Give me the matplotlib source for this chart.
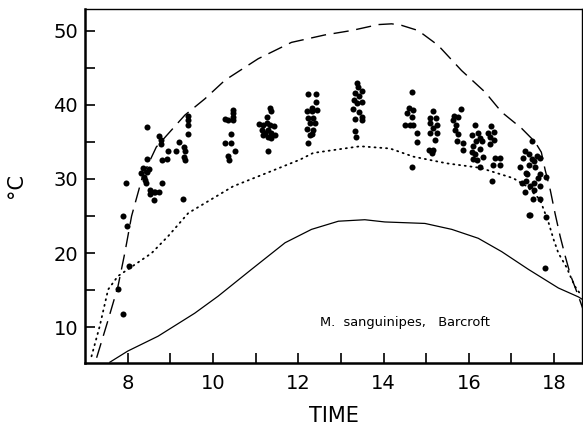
import numpy as np
from matplotlib import pyplot as plt
from matplotlib.ticker import MultipleLocator, FixedLocator

plt.rcParams["font.family"] = "DejaVu Sans"

# observed body temperatures (time of day, deg C)
obs_time = [7.77, 7.88, 7.89, 7.97, 7.99, 8.03, 8.32, 8.35, 8.38, 8.40, 8.42, 8.45, 8.45, 8.46,
            8.50, 8.52, 8.52, 8.61, 8.61, 8.63, 8.74, 8.74, 8.77, 8.77, 8.81, 8.81, 8.93, 8.95,
            9.12, 9.20, 9.30, 9.33, 9.34, 9.33, 9.34, 9.42, 9.42, 9.42, 9.42,
            10.28, 10.35, 10.47, 10.48, 10.47, 10.46, 10.41, 10.28, 10.41, 10.51, 10.35, 10.38,
            11.33, 11.37, 11.26, 11.08, 11.18, 11.26, 11.33, 11.43, 11.29, 11.14, 11.22, 11.35,
            11.45, 11.29, 11.37, 11.18, 11.28,
            12.22, 12.41, 12.41, 12.31, 12.21, 12.33, 12.43, 12.23, 12.35, 12.27, 12.38, 12.21,
            12.35, 12.27, 12.33, 12.23,
            13.37, 13.41, 13.33, 13.49, 13.43, 13.31, 13.49, 13.38, 13.29, 13.43, 13.49, 13.33,
            13.49, 13.33, 13.35,
            14.66, 14.60, 14.68, 14.55, 14.66, 14.50, 14.62, 14.70, 14.79, 14.78, 14.66,
            15.15, 15.09, 15.23, 15.09, 15.25, 15.17, 15.09, 15.25, 15.21, 15.07, 15.17, 15.13,
            15.81, 15.65, 15.75, 15.62, 15.70, 15.68, 15.75, 15.72, 15.86, 15.86,
            16.15, 16.07, 16.22, 16.25, 16.17, 16.30, 16.10, 16.26, 16.07, 16.15, 16.33, 16.10,
            16.20, 16.25,
            16.51, 16.46, 16.59, 16.50, 16.59, 16.50, 16.62, 16.72, 16.56, 16.73, 16.54,
            17.48, 17.32, 17.40, 17.28, 17.48, 17.60, 17.52, 17.67, 17.40, 17.20, 17.55, 17.34,
            17.67, 17.63, 17.81, 17.34, 17.52, 17.67,
            17.36, 17.24, 17.44, 17.32, 17.52, 17.50, 17.67, 17.42, 17.81, 17.44, 17.79]
obs_temp = [15.2, 11.8, 25.0, 29.5, 23.7, 18.2, 30.8, 31.5, 30.2, 29.8, 29.4, 30.9, 32.7, 37.0,
            31.4, 28.5, 27.9, 28.3, 27.2, 28.3, 35.8, 28.3, 35.2, 34.7, 32.6, 29.4, 32.7, 33.8,
            33.8, 35.0, 27.3, 34.3, 33.7, 33.0, 32.5, 38.5, 38.0, 37.2, 36.0,
            38.1, 38.0, 39.3, 38.9, 38.0, 38.4, 36.0, 34.9, 34.9, 33.8, 33.1, 32.6,
            39.5, 39.1, 38.4, 37.4, 37.2, 37.5, 37.3, 37.1, 36.6, 36.6, 36.2, 36.2,
            35.9, 35.7, 35.5, 35.9, 33.8,
            41.5, 41.5, 40.4, 39.6, 39.1, 39.1, 39.3, 38.2, 38.2, 37.5, 37.5, 36.7,
            36.6, 35.9, 36.1, 34.9,
            42.9, 42.4, 41.6, 41.8, 41.2, 40.7, 40.4, 40.2, 39.4, 39.0, 38.4, 38.1,
            38.0, 36.4, 35.7,
            41.7, 39.5, 39.3, 38.9, 38.4, 37.2, 37.2, 37.2, 36.2, 35.0, 31.6,
            39.2, 38.2, 38.2, 37.5, 37.3, 36.9, 36.2, 36.2, 35.3, 33.9, 33.9, 33.5,
            39.4, 38.5, 38.3, 37.9, 37.3, 36.6, 36.1, 35.1, 34.8, 33.9,
            37.3, 35.9, 36.2, 35.5, 35.1, 35.1, 34.4, 34.0, 33.6, 33.3, 33.0, 32.7,
            32.6, 31.6,
            37.1, 36.2, 36.3, 35.6, 35.3, 34.7, 32.8, 32.8, 31.9, 31.9, 29.7,
            35.1, 33.7, 33.3, 32.8, 32.7, 33.1, 32.4, 32.8, 31.9, 31.6, 31.6, 30.8,
            30.7, 30.1, 30.3, 29.7, 29.4, 29.0,
            30.6, 29.4, 29.0, 28.3, 28.5, 27.3, 27.3, 25.2, 24.9, 25.2, 18.0]

# upper (dashed) curve
dash_time = [7.27, 7.54, 7.77, 7.93, 8.09, 8.35, 8.67, 9.34, 9.81, 10.28, 11.06, 11.84, 12.62,
             13.25, 13.88, 14.19, 14.42, 14.81, 15.28, 15.83, 16.38, 16.77, 17.24, 17.55,
             17.70, 17.79, 17.91, 18.02, 18.14, 18.26, 18.38, 18.57, 18.68]
dash_temp = [5.9, 11.0, 15.5, 20.0, 25.0, 30.4, 34.3, 38.6, 40.8, 43.3, 46.2, 48.4, 49.4,
             50.0, 50.8, 50.9, 50.7, 50.0, 48.0, 44.6, 41.7, 39.0, 36.8, 35.0,
             33.6, 31.2, 28.5, 25.4, 22.3, 19.6, 17.1, 14.2, 12.4]

# middle (dotted) curve
dot_time = [7.15, 7.34, 7.54, 7.77, 8.00, 8.56, 8.95, 9.42, 10.47, 11.26, 12.04, 12.35, 13.45,
            14.15, 14.70, 15.48, 16.26, 17.04, 17.36, 17.67, 17.87, 17.99, 18.10, 18.30,
            18.38, 18.49, 18.65]
dot_temp = [6.1, 10.1, 15.1, 16.9, 17.8, 20.0, 22.3, 25.4, 29.0, 30.8, 32.6, 33.5, 34.4,
            34.1, 33.0, 32.1, 31.5, 30.1, 29.0, 27.2, 24.1, 21.8, 20.0, 18.0,
            16.9, 15.5, 14.2]

# lower (solid) curve
solid_time = [7.58, 8.00, 8.71, 9.57, 10.12, 10.90, 11.69, 12.31, 12.94, 13.56, 14.03, 14.97,
              15.60, 16.22, 16.77, 17.40, 18.10, 18.57, 18.68]
solid_temp = [5.3, 6.8, 8.8, 11.9, 14.2, 17.8, 21.4, 23.2, 24.3, 24.5, 24.2, 24.0,
              23.2, 22.0, 20.2, 17.8, 15.3, 14.1, 13.7]


def plot():
    fig = plt.figure(figsize=(5.83, 4.28), dpi=100)
    ax = fig.add_axes([0.146, 0.152, 0.852, 0.827])

    ax.plot(dash_time, dash_temp, color='black', lw=1.0, linestyle=(0, (11, 5.5)))
    ax.plot(dot_time, dot_temp, color='black', lw=1.3, linestyle=(0, (0.6, 2.6)),
            dash_capstyle='round')
    ax.plot(solid_time, solid_temp, color='black', lw=0.9)
    ax.scatter(obs_time, obs_temp, s=19, color='black', linewidths=0, zorder=3)

    ax.text(12.5, 10.6, "M.  sanguinipes,   Barcroft", fontsize=9.4, ha='left', va='center')

    ax.set_xlim(7.0, 18.65)
    ax.set_ylim(5.2, 52.9)
    ax.xaxis.set_major_locator(FixedLocator([8, 10, 12, 14, 16, 18]))
    ax.xaxis.set_minor_locator(FixedLocator([9, 11, 13, 15, 17]))
    ax.yaxis.set_major_locator(FixedLocator([10, 20, 30, 40, 50]))
    ax.yaxis.set_minor_locator(FixedLocator([15, 25, 35, 45]))
    ax.tick_params(which='both', direction='in', length=7.5, width=1.2, labelsize=14)
    ax.tick_params(axis='x', which='both', pad=8)
    ax.tick_params(axis='y', which='both', pad=5)

    for side in ['left', 'bottom']:
        ax.spines[side].set_linewidth(1.8)
    for side in ['top', 'right']:
        ax.spines[side].set_linewidth(1.0)

    ax.set_xlabel('TIME', fontsize=15, labelpad=9)
    ax.set_ylabel('°C', fontsize=15, labelpad=20)
    plt.savefig("out.png", dpi=100)


if __name__ == '__main__':
    plot()
